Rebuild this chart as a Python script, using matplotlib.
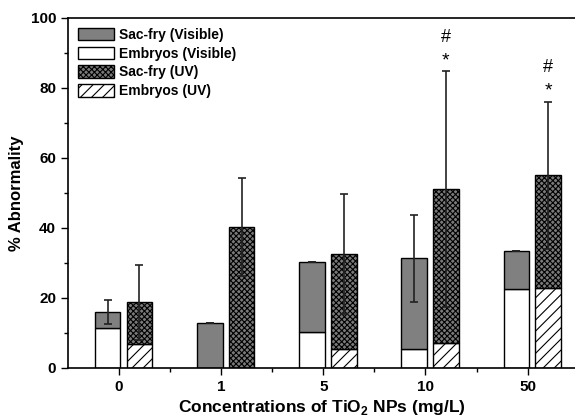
import numpy as np
import matplotlib
matplotlib.use("Agg")
import matplotlib.pyplot as plt

plt.rcParams["font.family"] = ["Liberation Sans", "DejaVu Sans"]
plt.rcParams["font.weight"] = "bold"
plt.rcParams["mathtext.fontset"] = "custom"
plt.rcParams["mathtext.rm"] = "Liberation Sans:bold"
plt.rcParams["mathtext.bf"] = "Liberation Sans:bold"
plt.rcParams["hatch.linewidth"] = 0.8

concentrations = ["0", "1", "5", "10", "50"]

# visible light
embryos_vis = [11.3, 0.0, 10.2, 5.3, 22.5]
sacfry_vis = [4.6, 12.8, 20.0, 26.0, 10.9]
err_vis = [3.5, 0.0, 0.0, 12.5, 0.0]

# UV light
embryos_uv = [6.9, 0.0, 5.3, 7.1, 22.7]
sacfry_uv = [11.9, 40.3, 27.2, 44.0, 32.4]
err_uv = [10.7, 14.0, 17.2, 33.7, 21.0]

# significance marks above UV bars
marks = {3: ("#", "*"), 4: ("#", "*")}

x = np.arange(len(concentrations))
w = 0.25
x_vis = x - 0.11
x_uv = x + 0.2

fig = plt.figure(figsize=(5.75, 4.18), dpi=100)
ax = fig.add_axes([0.118, 0.12, 0.885, 0.837])

tot_vis = np.array(embryos_vis) + np.array(sacfry_vis)
tot_uv = np.array(embryos_uv) + np.array(sacfry_uv)

ax.bar(x_vis, embryos_vis, w, color="white", edgecolor="black", lw=1,
       label="Embryos (Visible)", zorder=2)
ax.bar(x_vis, sacfry_vis, w, bottom=embryos_vis, color="#808080",
       edgecolor="black", lw=1, label="Sac-fry (Visible)", zorder=2)
ax.bar(x_uv, embryos_uv, w, color="white", edgecolor="black", lw=1,
       hatch="///", label="Embryos (UV)", zorder=2)
ax.bar(x_uv, sacfry_uv, w, bottom=embryos_uv, color="#7a7a7a",
       edgecolor="black", lw=1, hatch="xxxxxx", label="Sac-fry (UV)", zorder=2)

ax.errorbar(x_vis, tot_vis, yerr=err_vis, fmt="none", ecolor="#222222",
            elinewidth=1.2, capsize=3, capthick=1.2, zorder=3)
ax.errorbar(x_uv, tot_uv, yerr=err_uv, fmt="none", ecolor="#222222",
            elinewidth=1.2, capsize=3, capthick=1.2, zorder=3)

for i, (m1, m2) in marks.items():
    top = tot_uv[i] + err_uv[i]
    ax.text(x_uv[i], top + 3.0, m2, ha="center", va="center",
            fontsize=14, fontweight="normal")
    ax.text(x_uv[i], top + 9.7, m1, ha="center", va="center",
            fontsize=13, fontweight="normal")

ax.set_xlim(-0.5, 4.48)
ax.set_ylim(0, 100)
ax.set_xticks(x)
ax.set_xticklabels(concentrations)
ax.set_xticks(x[:-1] + 0.5, minor=True)
ax.set_yticks(np.arange(0, 101, 20))
ax.set_yticks(np.arange(10, 100, 20), minor=True)
ax.tick_params(axis="both", which="major", direction="out", length=5,
               width=1, labelsize=11)
ax.tick_params(axis="both", which="minor", direction="out", length=3, width=1)
for lab in ax.get_xticklabels() + ax.get_yticklabels():
    lab.set_fontweight("bold")
for s in ax.spines.values():
    s.set_linewidth(1.2)

ax.set_xlabel(r"Concentrations of TiO$_\mathbf{2}$ NPs (mg/L)",
              fontsize=12.5, fontweight="bold", labelpad=3)
ax.set_ylabel("% Abnormality", fontsize=12, fontweight="bold", labelpad=5)

handles, labels = ax.get_legend_handles_labels()
order = [1, 0, 3, 2]
ax.legend([handles[i] for i in order], [labels[i] for i in order],
          loc="upper left", frameon=False, handlelength=2.6,
          handleheight=1.0, labelspacing=0.35, handletextpad=0.4,
          borderaxespad=0.3, prop={"weight": "bold", "size": 10})

fig.savefig("out.png", dpi=100)
